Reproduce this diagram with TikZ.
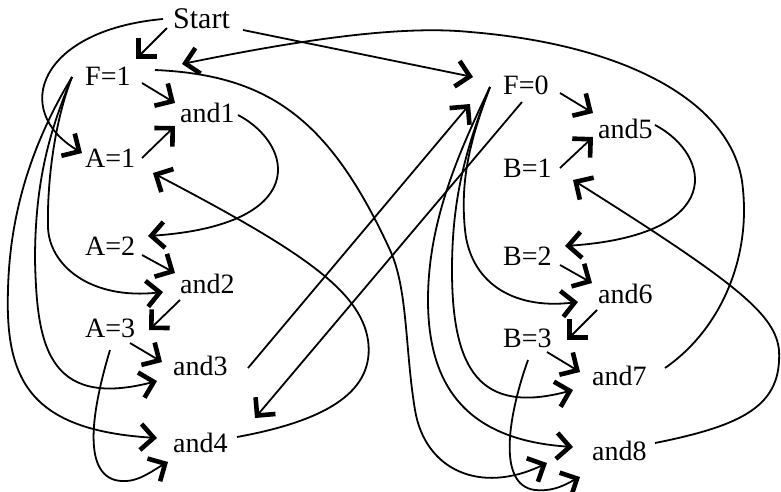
\documentclass[tikz,border=0pt]{standalone}
\usepackage{fontspec}
\setmainfont{Liberation Serif}
\usetikzlibrary{arrows.meta}
\tikzset{
  txt/.style={inner sep=0pt, anchor=base west, font=\fontsize{28}{32}\selectfont},
  bigtxt/.style={txt, font=\fontsize{30}{34}\selectfont},
  conn/.style={line width=1.8pt, -{Straight Barb[length=13pt,width=26pt,line width=4.6pt]}}
}
\begin{document}
\begin{tikzpicture}[x=1pt,y=-1pt]
\useasboundingbox (0,0) rectangle (781,491);
% nodes
\node[bigtxt] (start) at (173,28) {Start};
\node[txt] (f1) at (85,85) {F=1};
\node[txt] (and1) at (180,122) {and1};
\node[txt] (a1) at (85,167) {A=1};
\node[txt] (a2) at (85,255) {A=2};
\node[txt] (and2) at (180,293) {and2};
\node[txt] (a3) at (85,337) {A=3};
\node[txt] (and3) at (173,375) {and3};
\node[txt] (and4) at (173,452) {and4};
\node[txt] (f0) at (503,94) {F=0};
\node[txt] (and5) at (598,138) {and5};
\node[txt] (b1) at (503,177) {B=1};
\node[txt] (b2) at (503,265) {B=2};
\node[txt] (and6) at (598,303) {and6};
\node[txt] (b3) at (503,347) {B=3};
\node[txt] (and7) at (592,385) {and7};
\node[txt] (and8) at (592,460) {and8};
% connectors
\draw[conn] ([shift={(-6,0)}]start.base west) -- ([shift={(51,-26)}]f1.base west);
\draw[conn] ([shift={(70,2)}]start.base west) -- ([shift={(-30,-17)}]f0.base west);
\draw[conn] ([shift={(-10,-9)}]start.base west) .. controls (40,30) and (10,110) .. ([shift={(-3,-14)}]a1.base west);
\draw[conn] ([shift={(57,-2)}]f1.base west) -- ([shift={(-5,-19)}]and1.base west);
\draw[conn] ([shift={(57,-9)}]a1.base west) -- ([shift={(-5,4)}]and1.base west);
\draw[conn] ([shift={(58,-7)}]and1.base west) .. controls (295,145) and (310,225) .. ([shift={(63,-19)}]a2.base west);
\draw[conn] ([shift={(57,0)}]a2.base west) -- ([shift={(-5,-20)}]and2.base west);
\draw[conn] ([shift={(0,7)}]and2.base west) -- ([shift={(64,-7)}]a3.base west);
\draw[conn] ([shift={(45,6)}]a3.base west) -- ([shift={(-11,-13)}]and3.base west);
% F=1 fan
\draw[conn] ([shift={(-13,-8)}]f1.base west) .. controls (55,120) and (47,180) .. (48,227) .. controls (49,265) and (90,300) .. ([shift={(-17,-1)}]and2.base west);
\draw[conn] ([shift={(-13,-8)}]f1.base west) .. controls (50,130) and (35,180) .. (35,260) .. controls (37,340) and (45,410) .. ([shift={(-16,6)}]and3.base west);
\draw[conn] ([shift={(-13,-8)}]f1.base west) .. controls (40,130) and (10,200) .. (8,290) .. controls (5,380) and (30,430) .. ([shift={(-16,-14)}]and4.base west);
\draw[conn] ([shift={(25,13)}]a3.base west) .. controls (95,400) and (80,470) .. (115,480) .. controls (135,485) and (150,472) .. ([shift={(-5,10)}]and4.base west);
% F=0 fan
\draw[conn] ([shift={(-13,-7)}]f0.base west) .. controls (470,140) and (460,180) .. (465,230) .. controls (470,280) and (510,310) .. ([shift={(-20,-1)}]and6.base west);
\draw[conn] ([shift={(-13,-7)}]f0.base west) .. controls (465,150) and (452,200) .. (452,270) .. controls (452,370) and (480,415) .. ([shift={(-19,5)}]and7.base west);
\draw[conn] ([shift={(-13,-7)}]f0.base west) .. controls (460,150) and (428,220) .. (428,300) .. controls (428,390) and (470,440) .. ([shift={(-19,-13)}]and8.base west);
% long curves
\draw[conn] ([shift={(70,-15)}]f1.base west) .. controls (270,75) and (330,120) .. (390,250) .. controls (408,289) and (405,350) .. (415,410) .. controls (425,470) and (480,495) .. ([shift={(-45,3)}]and8.base west);
\draw[conn] ([shift={(25,13)}]b3.base west) .. controls (510,410) and (495,485) .. (535,490) .. controls (555,492) and (568,483) .. ([shift={(-12,17)}]and8.base west);
\draw[conn] ([shift={(64,-15)}]and4.base west) .. controls (330,420) and (375,390) .. (368,340) .. controls (360,290) and (300,250) .. ([shift={(68,6)}]a1.base west);
\draw[conn] ([shift={(63,-17)}]and8.base west) .. controls (745,425) and (782,405) .. (779,350) .. controls (775,315) and (740,285) .. ([shift={(70,3)}]b1.base west);
\draw[conn] ([shift={(73,-17)}]and7.base west) .. controls (720,330) and (750,260) .. (743,190) .. controls (737,105) and (630,45) .. (470,32) .. controls (400,25) and (300,40) .. ([shift={(97,-21)}]f1.base west);
\draw[conn] ([shift={(75,-7)}]and3.base west) -- ([shift={(-33,10)}]f0.base west);
\draw[conn] ([shift={(19,8)}]f0.base west) -- ([shift={(82,-34)}]and4.base west);
% right side
\draw[conn] ([shift={(57,-1)}]f0.base west) -- ([shift={(-5,-25)}]and5.base west);
\draw[conn] ([shift={(57,-9)}]b1.base west) -- ([shift={(-5,-1)}]and5.base west);
\draw[conn] ([shift={(57,-13)}]and5.base west) .. controls (712,155) and (727,235) .. ([shift={(62,-19)}]b2.base west);
\draw[conn] ([shift={(57,0)}]b2.base west) -- ([shift={(-6,-20)}]and6.base west);
\draw[conn] ([shift={(-1,7)}]and6.base west) -- ([shift={(64,-7)}]b3.base west);
\draw[conn] ([shift={(44,5)}]b3.base west) -- ([shift={(-12,-13)}]and7.base west);
\end{tikzpicture}
\end{document}
